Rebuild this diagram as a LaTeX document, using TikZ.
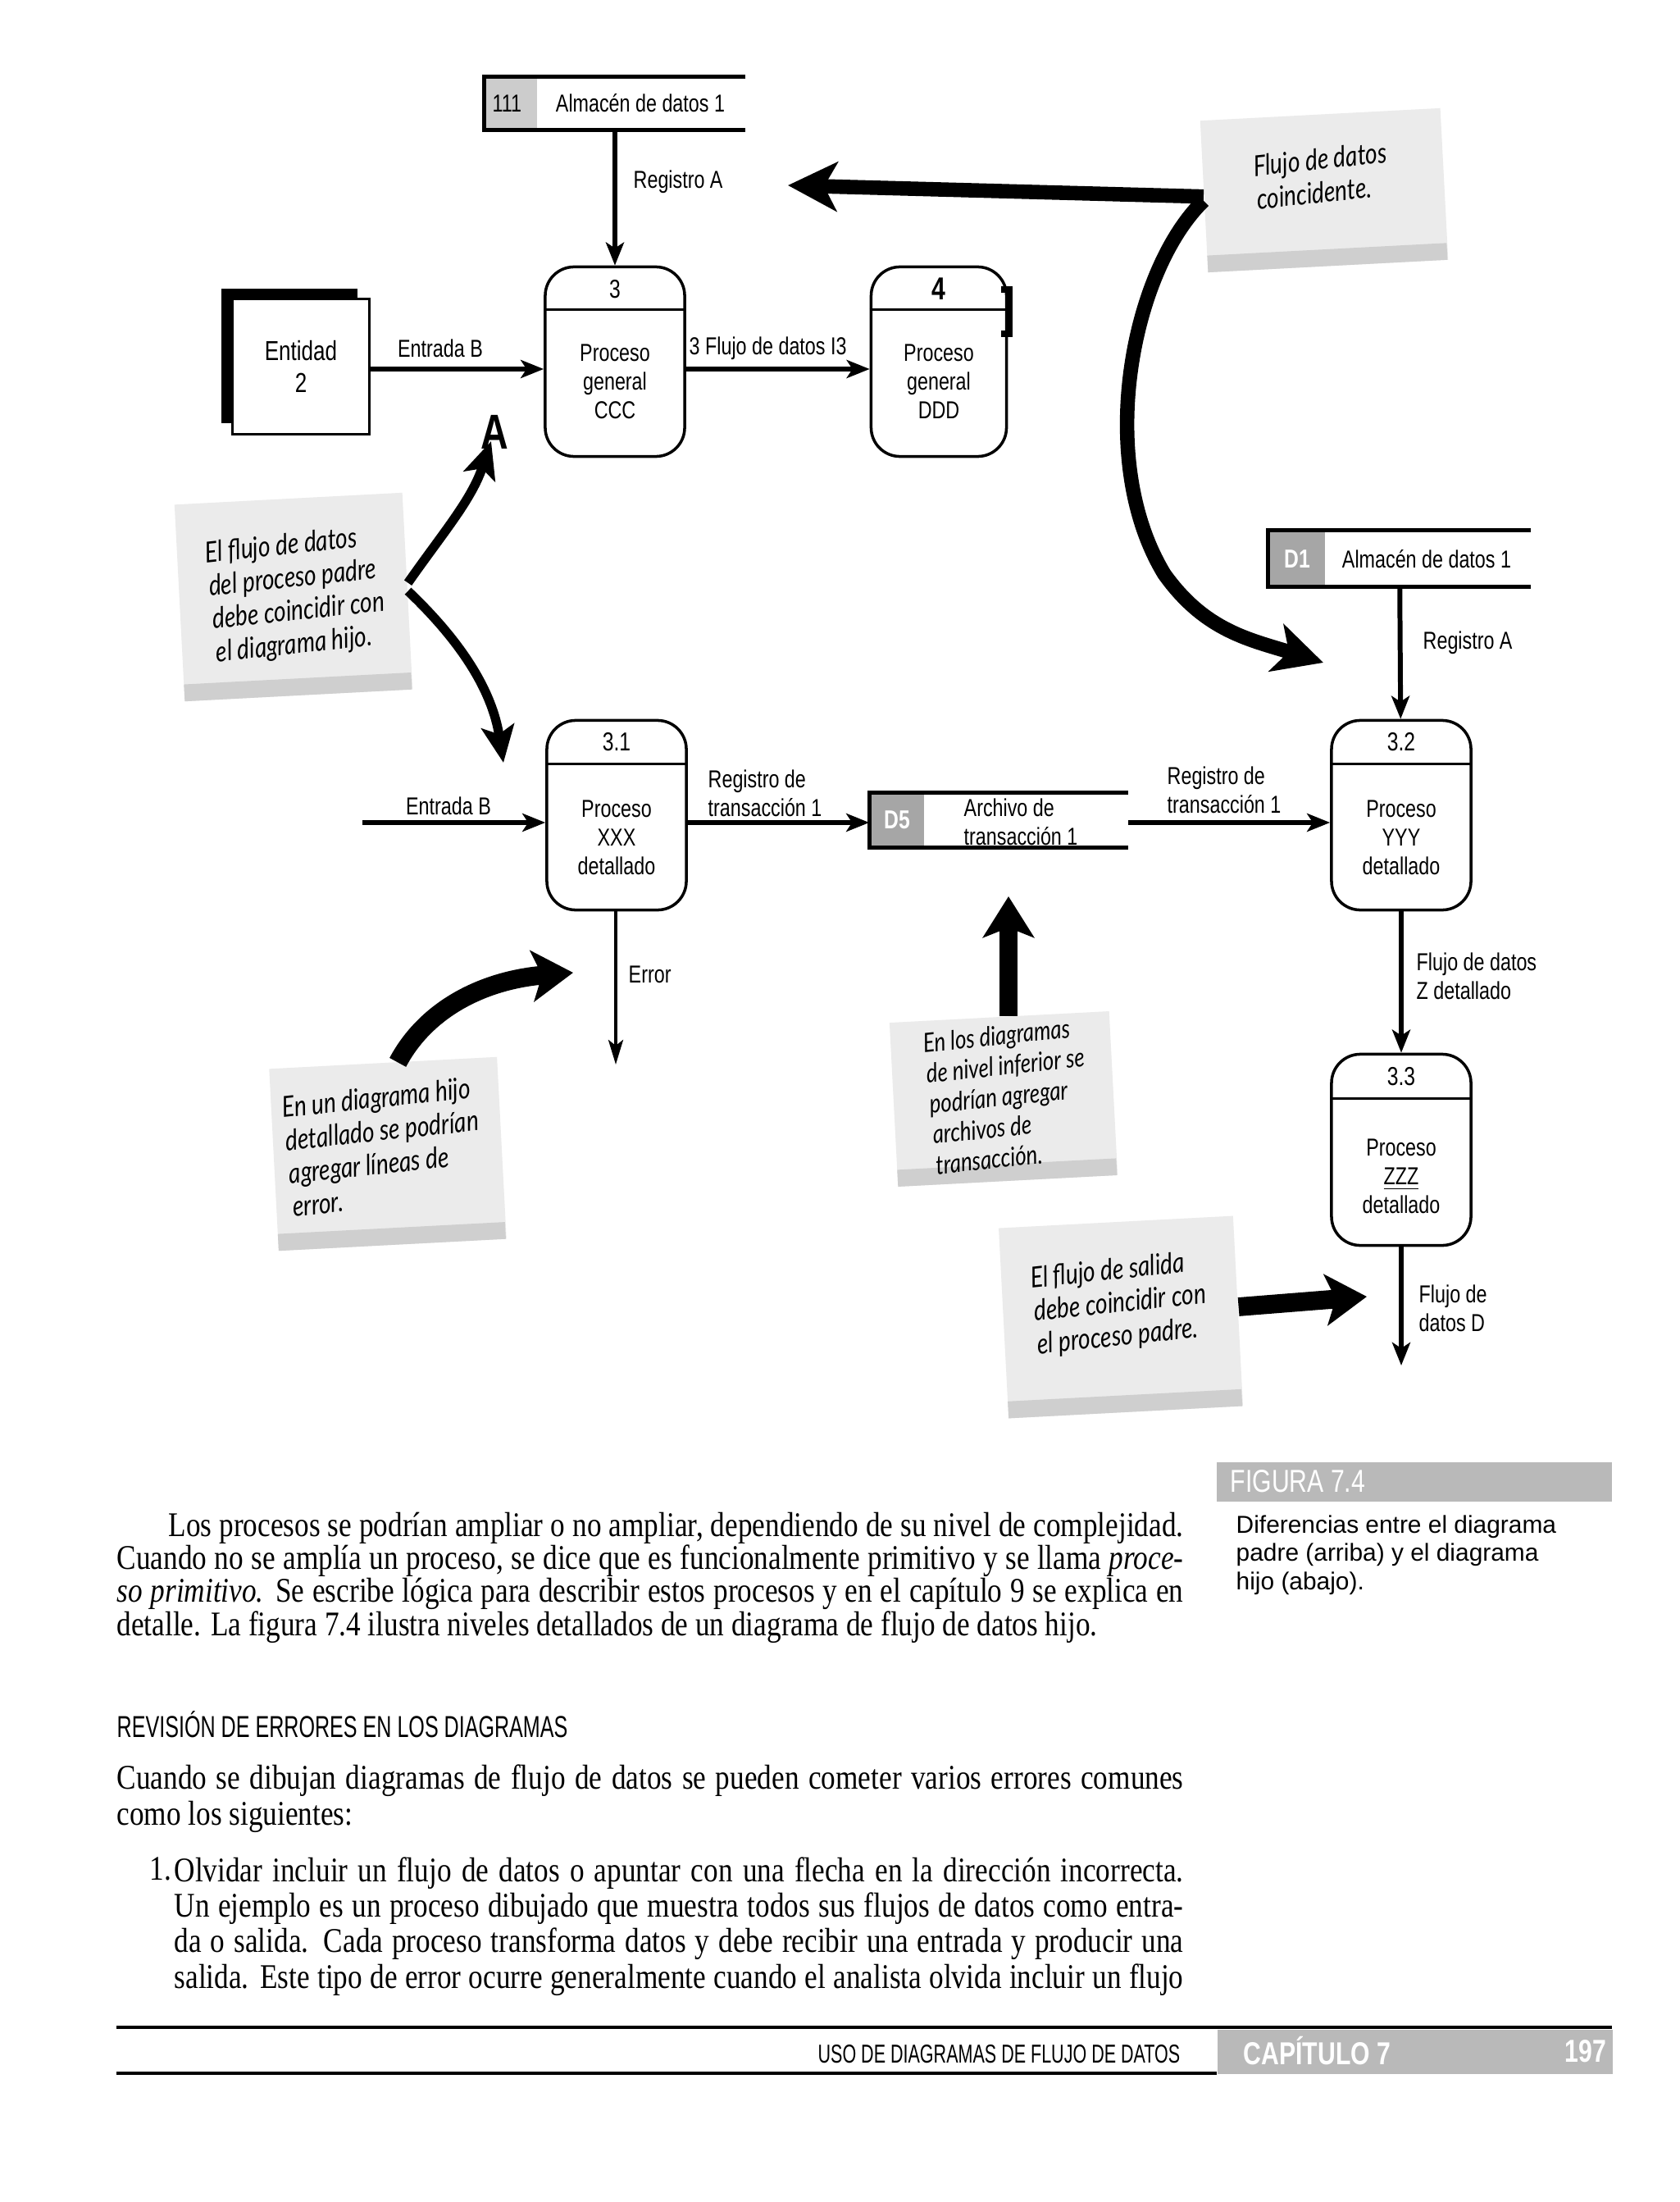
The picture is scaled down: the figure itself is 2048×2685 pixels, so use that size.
\documentclass[tikz,border=0pt]{standalone}
\usepackage{fontspec}
\setmainfont[FakeStretch=0.835]{Liberation Serif}
\newfontfamily\diagfont[FakeStretch=0.78]{Liberation Sans}
\newfontfamily\headfont[FakeStretch=0.68]{Liberation Sans}
\newfontfamily\capfont{Liberation Sans}
\newfontfamily\notefont[FakeStretch=0.8]{Lato}
\usetikzlibrary{arrows.meta,positioning}

\tikzset{
  proc/.style={draw, line width=1pt, rounded corners=10pt, minimum width=1.70cm, minimum height=2.31cm, inner sep=0pt},
  store/.style={inner sep=0pt, minimum height=0.66cm},
  num/.style={font=\diagfont\fontsize{9}{10}\selectfont, inner sep=0pt},
  ptxt/.style={font=\diagfont\fontsize{8.5}{10}\selectfont, align=center, inner sep=0pt},
  lbl/.style={font=\diagfont\fontsize{8.5}{10}\selectfont, align=left, inner sep=0pt},
  flow/.style={line width=1.7pt, -{Stealth[length=0.28cm, width=0.22cm, inset=0.07cm]}},
  note/.style={fill=gray!16, inner sep=0pt,
    path picture={\fill[gray!38] ([yshift=0.2cm]path picture bounding box.south west) rectangle (path picture bounding box.south east);}},
  ntxt/.style={font=\notefont\itshape\fontsize{10}{11.5}\selectfont, align=left, rotate=6, inner sep=0pt},
  bigarrow/.style={line width=5pt, -{Stealth[length=0.6cm, width=0.6cm, inset=0.16cm]}},
  midarrow/.style={line width=3.2pt, -{Stealth[length=0.45cm, width=0.4cm, inset=0.1cm]}},
  fatarrow/.style={line width=6.5pt, -{Stealth[length=0.5cm, width=0.62cm, inset=0.12cm]}},
  bodytext/.style={font=\fontsize{12}{11.5}\selectfont, text width=13cm, align=justify, inner sep=0pt, anchor=north west},
}

\begin{document}
\begin{tikzpicture}[x=0.01cm,y=-0.01cm]
\useasboundingbox[fill=white] (0,0) rectangle (2048,2685);

% parent diagram
\node[store, minimum width=3.17cm, minimum height=0.64cm] (st1) at (750,126) {};
\fill[gray!40] (st1.north west) rectangle ([xshift=0.64cm]st1.south west);
\draw[line width=1.3pt] (st1.north east) -- (st1.north west) -- (st1.south west) -- (st1.south east);
\node[lbl, anchor=west] (st1id) at (600,126) {111};
\node[lbl] (st1t) at (781,126) {Almacén de datos 1};

\fill (270,352) rectangle (436,366);
\fill (270,352) rectangle (285,516);
\node[draw, line width=1pt, fill=white, minimum width=1.67cm, minimum height=1.65cm, align=center,
  font=\diagfont\fontsize{9.5}{11}\selectfont] (e2) at (367,447) {Entidad\\2};

\node[proc] (p3) at (750,441) {};
\draw[line width=1pt] ([yshift=-0.54cm]p3.north west) -- ([yshift=-0.54cm]p3.north east);
\node[num] (p3n) at ([yshift=-0.29cm]p3.north) {3};
\node[ptxt] (p3t) at ([yshift=0.93cm]p3.south) {Proceso\\general\\CCC};

\node[proc, minimum width=1.65cm] (p4) at (1145,441) {};
\draw[line width=1pt] ([yshift=-0.54cm]p4.north west) -- ([yshift=-0.54cm]p4.north east);
\node[num, font=\diagfont\bfseries\fontsize{11}{12}\selectfont] (p4n) at ([yshift=-0.29cm]p4.north) {4};
\node[ptxt] (p4t) at ([yshift=0.93cm]p4.south) {Proceso\\general\\DDD};
\draw[line width=2pt] (1221,353) -- (1231,353) -- (1231,407) -- (1221,407);

\draw[flow] (st1) -- (p3);
\draw[flow] (e2.east |- 0,450) -- (p3.west |- 0,450);
\draw[flow] (p3.east |- 0,450) -- (p4.west |- 0,450);
\node[lbl, anchor=west] (lra) at (772,222) {Registro A};
\node[lbl] (leb) at (537,425) {Entrada B};
\node[lbl, anchor=west] (lfd) at (840,425) {3 Flujo de datos I3};

% child diagram
\node[store, minimum width=3.19cm, minimum height=0.67cm] (d1) at (1707,681) {};
\fill[gray!70] (d1.north west) rectangle ([xshift=0.69cm]d1.south west);
\draw[line width=1.3pt] (d1.north east) -- (d1.north west) -- (d1.south west) -- (d1.south east);
\node[lbl, text=white, font=\diagfont\bfseries\fontsize{9}{10}\selectfont] (d1id) at (1582,682) {D1};
\node[lbl] (d1t) at (1740,682) {Almacén de datos 1};

\node[store, minimum width=3.14cm, minimum height=0.66cm] (d5) at (1218,1000) {};
\fill[gray!70] (d5.north west) rectangle ([xshift=0.67cm]d5.south west);
\draw[line width=1.3pt] (d5.north east) -- (d5.north west) -- (d5.south west) -- (d5.south east);
\node[lbl, text=white, font=\diagfont\bfseries\fontsize{9}{10}\selectfont] (d5id) at (1094,1000) {D5};
\node[lbl, align=left, anchor=west] (d5t) at (1175,1002) {Archivo de\\transacción 1};

\node[proc] (p31) at (752,994) {};
\draw[line width=1pt] ([yshift=-0.55cm]p31.north west) -- ([yshift=-0.55cm]p31.north east);
\node[num] (p31n) at ([yshift=-0.28cm]p31.north) {3.1};
\node[ptxt] (p31t) at ([yshift=0.9cm]p31.south) {Proceso\\XXX\\detallado};

\node[proc] (p32) at (1709,994) {};
\draw[line width=1pt] ([yshift=-0.55cm]p32.north west) -- ([yshift=-0.55cm]p32.north east);
\node[num] (p32n) at ([yshift=-0.28cm]p32.north) {3.2};
\node[ptxt] (p32t) at ([yshift=0.9cm]p32.south) {Proceso\\YYY\\detallado};

\node[proc, minimum height=2.33cm] (p33) at (1709,1402) {};
\draw[line width=1pt] ([yshift=-0.56cm]p33.north west) -- ([yshift=-0.56cm]p33.north east);
\node[num] (p33n) at ([yshift=-0.29cm]p33.north) {3.3};
\node[ptxt] (p33t) at ([yshift=0.86cm]p33.south) {Proceso\\\underline{ZZZ}\\detallado};

\coordinate (ebin) at (442,1003);
\coordinate (errend) at (751,1298);
\coordinate (dout) at (1709,1665);
\draw[flow] (ebin) -- (ebin -| p31.west);
\draw[flow] (p31.east |- ebin) -- (d5.west |- ebin);
\draw[flow] (d5.east |- ebin) -- (p32.west |- ebin);
\draw[flow] (d1) -- (p32);
\draw[flow] (p32) -- (p33);
\draw[flow] (p33.south) -- (dout);
\draw[line width=1.1pt, -{Stealth[length=0.3cm, width=0.18cm, inset=0.07cm]}] (p31.south -| errend) -- (errend);

\node[lbl] (leb2) at (547,983) {Entrada B};
\node[lbl, anchor=west] (lrt1) at (863,967) {Registro de\\transacción 1};
\node[lbl, anchor=west] (lrt2) at (1423,963) {Registro de\\transacción 1};
\node[lbl, anchor=west] (lra2) at (1735,784) {Registro A};
\node[lbl, anchor=west] (lerr) at (766,1188) {Error};
\node[lbl, anchor=west] (lfz) at (1727,1190) {Flujo de datos\\Z detallado};
\node[lbl, anchor=west] (lfdd) at (1730,1595) {Flujo de\\datos D};

% notes
\node[note, rotate=3, minimum width=2.93cm, minimum height=1.85cm] (n1) at (1615,232) {};
\node[ntxt] (n1t) at (1612,214) {Flujo de datos\\coincidente.};
\node[note, rotate=3, minimum width=2.78cm, minimum height=2.40cm] (n2) at (358,728) {};
\node[ntxt] (n2t) at (362,726) {El flujo de datos\\del proceso padre\\debe coincidir con\\el diagrama hijo.};
\node[note, rotate=3, minimum width=2.78cm, minimum height=2.22cm] (n3) at (473,1407) {};
\node[ntxt] (n3t) at (468,1398) {En un diagrama hijo\\detallado se podrían\\agregar líneas de\\error.};
\node[note, rotate=3, minimum width=2.68cm, minimum height=2.0cm] (n4) at (1224,1340) {};
\node[ntxt, font=\notefont\itshape\fontsize{9.2}{10.6}\selectfont] (n4t) at (1230,1336) {En los diagramas\\de nivel inferior se\\podrían agregar\\archivos de\\transacción.};
\node[note, rotate=3, minimum width=2.86cm, minimum height=2.32cm] (n5) at (1367,1606) {};
\node[ntxt] (n5t) at (1366,1590) {El flujo de salida\\debe coincidir con\\el proceso padre.};

\coordinate (n1tipA) at (961,226);
\coordinate (n1tipB) at (1614,808);
\coordinate (n2tipA) at (599,538);
\coordinate (n2tipB) at (614,930);
\coordinate (n3tip) at (699,1186);
\coordinate (n4tip) at (1230,1093);
\coordinate (n5tip) at (1667,1581);
\draw[bigarrow] (n1.west) -- (n1tipA);
\draw[bigarrow] ([yshift=-0.05cm]n1.west) .. controls (1380,330) and (1335,560) .. (1420,700)
  .. controls (1470,770) and (1525,780) .. (n1tipB);
\draw[midarrow] ([yshift=0.1cm]n2.east) .. controls (540,650) and (575,610) .. (n2tipA);
\draw[midarrow] (n2.east) .. controls (560,780) and (600,840) .. (n2tipB);
\node[font=\diagfont\bfseries\fontsize{17}{17}\selectfont, inner sep=0pt] (bigA) at (603,527) {A};
\draw[fatarrow] ([xshift=0.18cm]n3.north) .. controls (520,1230) and (590,1195) .. (n3tip);
\draw[fatarrow] (n4.north -| n4tip) -- (n4tip);
\draw[fatarrow] ([yshift=0.05cm]n5.east) -- (n5tip);

% caption
\node[fill=gray!55, minimum width=4.82cm, minimum height=0.48cm, anchor=north west, inner sep=0pt] (figband) at (1483,1782) {};
\node[anchor=west, text=white, inner sep=0pt, font=\diagfont\fontsize{11}{12}\selectfont] (figlbl) at (1500,1806) {FIGURA 7.4};
\node[anchor=north west, inner sep=0pt, align=left, font=\capfont\fontsize{8.5}{9.8}\selectfont] (figcap) at (1507,1847)
  {Diferencias entre el diagrama\\padre (arriba) y el diagrama\\hijo (abajo).};

% text
\node[bodytext] (par1) at (142,1843) {\hspace*{0.63cm}Los procesos se podrían ampliar o no ampliar, dependiendo de su nivel de complejidad.\linebreak
Cuando no se amplía un proceso, se dice que es funcionalmente primitivo y se llama \textit{proce-}\linebreak
\textit{so primitivo.} Se escribe lógica para describir estos procesos y en el capítulo 9 se explica en\linebreak
detalle. La figura 7.4 ilustra niveles detallados de un diagrama de flujo de datos hijo.};
\node[anchor=west, inner sep=0pt, font=\headfont\fontsize{10.5}{12}\selectfont] (head) at (142,2103) {REVISIÓN DE ERRORES EN LOS DIAGRAMAS};
\node[bodytext, font=\fontsize{12}{12.5}\selectfont] (par2) at (142,2151) {Cuando se dibujan diagramas de flujo de datos se pueden cometer varios errores comunes\linebreak
como los siguientes:};
\node[anchor=north west, inner sep=0pt, font=\fontsize{12}{12.3}\selectfont] (item1n) at (182,2264) {1.};
\node[bodytext, text width=12.3cm, font=\fontsize{12}{12.3}\selectfont] (item1) at (212,2264) {Olvidar incluir un flujo de datos o apuntar con una flecha en la dirección incorrecta.\linebreak
Un ejemplo es un proceso dibujado que muestra todos sus flujos de datos como entra-\linebreak
da o salida. Cada proceso transforma datos y debe recibir una entrada y producir una\linebreak
\makebox[12.3cm][s]{salida. Este tipo de error ocurre generalmente cuando el analista olvida incluir un flujo}};

% footer
\draw[line width=1.1pt] (142,2472) -- (1966,2472);
\draw[line width=1.1pt] (142,2528) -- (1484,2528);
\node[fill=gray!55, minimum width=4.82cm, minimum height=0.54cm, anchor=north west, inner sep=0pt] (footband) at (1484,2474) {};
\node[anchor=east, inner sep=0pt, font=\headfont\fontsize{9}{10}\selectfont] (foot) at (1440,2505) {USO DE DIAGRAMAS DE FLUJO DE DATOS};
\node[anchor=west, text=white, inner sep=0pt, font=\diagfont\bfseries\fontsize{11}{12}\selectfont] (chap) at (1516,2501) {CAPÍTULO 7};
\node[anchor=east, text=white, inner sep=0pt, font=\diagfont\bfseries\fontsize{11}{12}\selectfont] (page) at (1960,2501) {197};
\end{tikzpicture}
\end{document}
